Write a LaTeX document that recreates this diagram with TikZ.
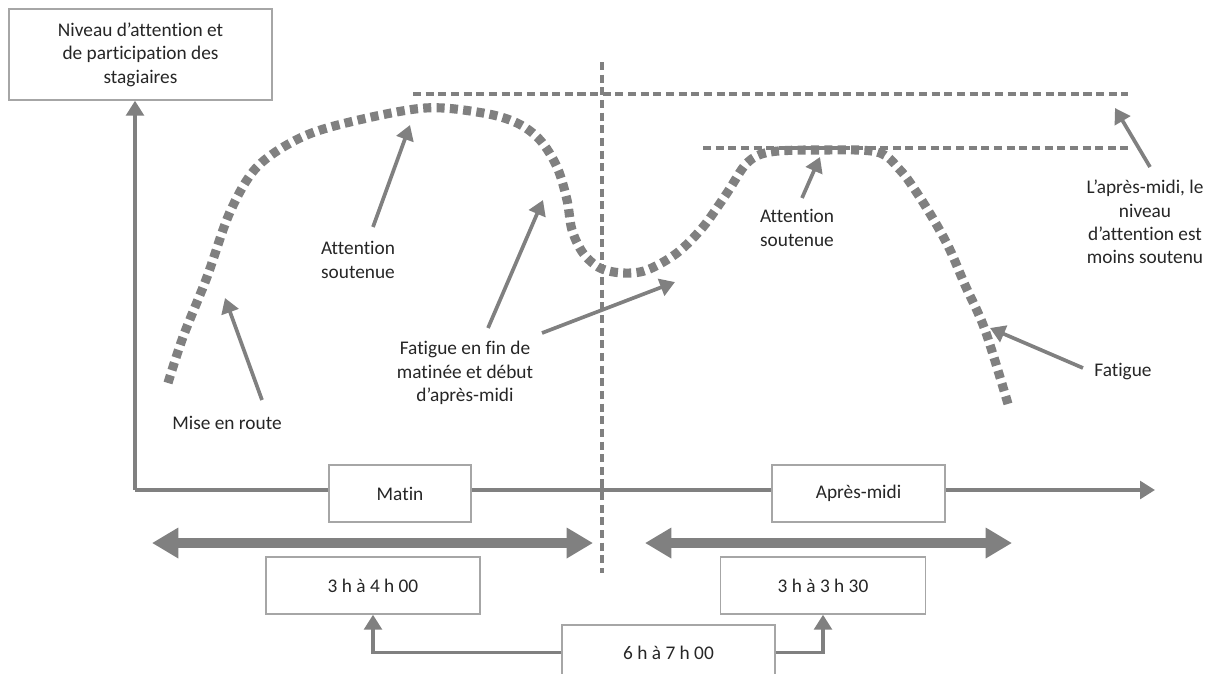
\documentclass[tikz,border=0pt]{standalone}
\usepackage{fontspec}
\setmainfont{Carlito}[Ligatures={NoCommon,NoContextual,NoRequired},Contextuals=NoAlternate]
\usetikzlibrary{arrows.meta}
\definecolor{linegray}{RGB}{128,128,128}
\definecolor{framegray}{RGB}{166,166,166}
\definecolor{inkgray}{RGB}{38,38,38}
\begin{document}
\begin{tikzpicture}[x=0.02cm,y=-0.02cm,
    every node/.style={font=\fontsize{11}{13.3}\selectfont,text=inkgray,align=center},
    frame/.style={draw=framegray,line width=0.8pt,fill=white,minimum height=1.14cm},
    axis/.style={draw=linegray,line width=2.1pt},
    pointer/.style={draw=linegray,line width=2.1pt,-{Triangle[width=10pt,length=8.5pt]}},
    span/.style={draw=linegray,line width=6pt,{Triangle[width=16.5pt,length=15pt]}-{Triangle[width=16.5pt,length=15pt]}},
    curve/.style={draw=linegray,line width=5.2pt,dash pattern=on 4.6pt off 3pt},
    guide/.style={draw=linegray,line width=1.9pt,dash pattern=on 4.6pt off 2.6pt}]
    \useasboundingbox (0,0) rectangle (1219,673);
    % boxes
    \node[frame,minimum width=5.26cm,minimum height=1.82cm] (ylab) at (140.5,54.5) {Niveau d’attention et\\de participation des\\stagiaires};
    \node[frame,minimum width=2.84cm] (matin) at (400,493.5) {Matin};
    \node[frame,minimum width=3.46cm] (apm) at (858.5,493.5) {Après-midi};
    \node[frame,minimum width=4.28cm] (range1) at (373,585.5) {3 h à 4 h 00};
    \node[frame,minimum width=4.1cm] (range2) at (823,585.5) {3 h à 3 h 30};
    \node[frame,minimum width=4.26cm,minimum height=1.1cm] (total) at (668.5,652.5) {6 h à 7 h 00};
    % axes
    \coordinate (orig) at (135,490);
    \coordinate (xtip) at (1155,490);
    \draw[axis,-{Triangle[width=10pt,length=8.5pt]}] (orig) -- (orig |- ylab.south);
    \draw[axis] (orig) -- (orig -| matin.west);
    \draw[axis] (orig -| matin.east) -- (orig -| apm.west);
    \draw[axis,-{Triangle[width=10pt,length=8.5pt]}] (orig -| apm.east) -- (xtip);
    \coordinate (spanAl) at (152,543); \coordinate (spanAr) at (593,543);
    \coordinate (spanBl) at (645,543); \coordinate (spanBr) at (1012,543);
    \draw[span] (spanAl) -- (spanAr);
    \draw[span] (spanBl) -- (spanBr);
    \draw[pointer] (total.west) -| (range1.south);
    \draw[pointer] (total.east) -| (range2.south);
    % guides
    \draw[guide] (602,62) -- (602,573);
    \draw[guide] (413,94) -- (1128,94);
    \draw[guide] (703,148) -- (1128,148);
    % attention curve
    \draw[curve] plot[smooth,tension=0.55] coordinates {(168,383) (183,337) (207,277) (230,212) (257,167) (300,138) (350,122) (425,108) (483,113) (517,123) (540,140) (557,167) (567,200) (572,230) (583,253) (600,268) (623,273) (647,270) (677,253) (703,227) (727,193) (747,163) (770,152) (820,150) (877,152) (900,170) (917,193) (935,222) (950,250) (965,285) (985,330) (1008,404)};
    % labels
    \node (mise) at (227,423) {Mise en route};
    \node (attL) at (358,260) {Attention\\soutenue};
    \node (fatL) at (465,373) {Fatigue en fin de\\matinée et début\\d’après-midi};
    \node (attR) at (797,228) {Attention\\soutenue};
    \node (pm) at (1145,222) {L’après-midi, le\\niveau\\d’attention est\\moins soutenu};
    \node (fatR) at (1123,372) {Fatigue};
    \coordinate (miseTip) at (225,298);
    \coordinate (attLTip) at (410,125);
    \coordinate (fatLTipA) at (543,200);
    \coordinate (fatLTipB) at (675,282);
    \coordinate (attRTip) at (820,157);
    \coordinate (pmTip) at (1115,108);
    \coordinate (fatRTip) at (990,328);
    \draw[pointer] ([shift={(35,-23)}]mise.center) -- (miseTip);
    \draw[pointer] ([shift={(15,-33)}]attL.center) -- (attLTip);
    \draw[pointer] ([shift={(23,-45)}]fatL.center) -- (fatLTipA);
    \draw[pointer] ([shift={(77,-40)}]fatL.center) -- (fatLTipB);
    \draw[pointer] ([shift={(5,-30)}]attR.center) -- (attRTip);
    \draw[pointer] ([shift={(5,-55)}]pm.center) -- (pmTip);
    \draw[pointer] ([shift={(-40,-4)}]fatR.center) -- (fatRTip);
\end{tikzpicture}
\end{document}
